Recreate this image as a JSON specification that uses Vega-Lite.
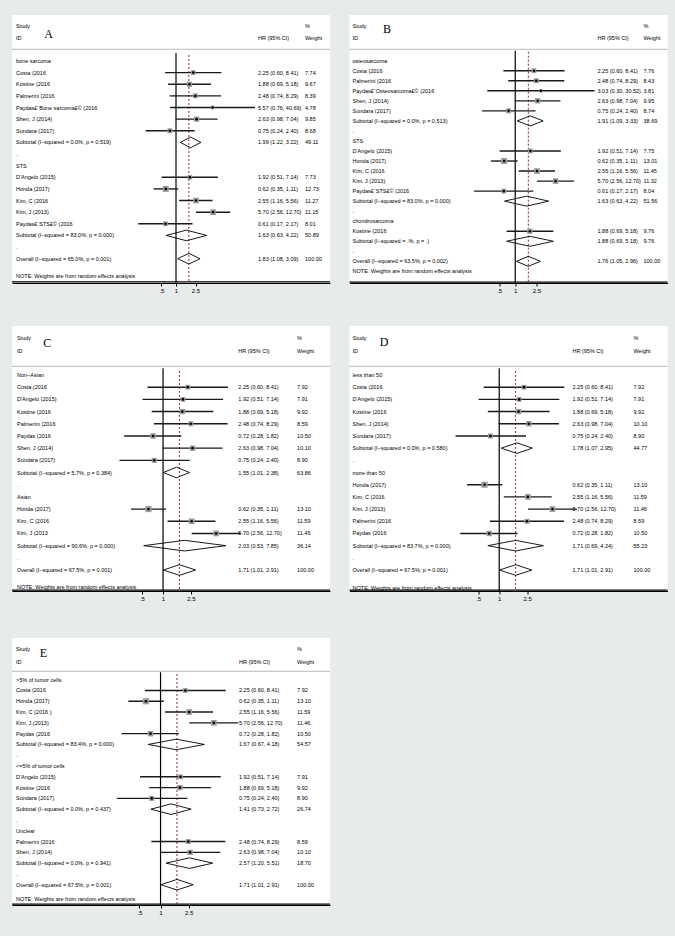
{
"$schema": "https://vega.github.io/schema/vega-lite/v6.json",
"background": "#e7ebe9",
"padding": {"left": 11, "top": 15, "right": 0, "bottom": 0},
"datasets": {
"A": [
{"row":-3.035,"label":"Study","wt":"%"},
{"row":-1.98,"label":"ID","hr":"HR (95% CI)","wt":"Weight"},
{"row":0,"label":"bone sarcoma"},
{"row":1,"label":"Costa (2016","type":"s","est":2.25,"lo":0.60,"hi":8.41,"w":7.74,"hr":"2.25 (0.60, 8.41)","wt":"7.74"},
{"row":2,"label":"Kostine (2016","type":"s","est":1.88,"lo":0.69,"hi":5.18,"w":9.67,"hr":"1.88 (0.69, 5.18)","wt":"9.67"},
{"row":3,"label":"Palmerini (2016","type":"s","est":2.48,"lo":0.74,"hi":8.29,"w":8.39,"hr":"2.48 (0.74, 8.29)","wt":"8.39"},
{"row":4,"label":"Paydas£¨Bone sarcoma£© (2016","type":"s","est":5.57,"lo":0.76,"hi":40.69,"w":4.78,"hr":"5.57 (0.76, 40.69)","wt":"4.78"},
{"row":5,"label":"Shen, J (2014)","type":"s","est":2.63,"lo":0.98,"hi":7.04,"w":9.85,"hr":"2.63 (0.98, 7.04)","wt":"9.85"},
{"row":6,"label":"Sundara (2017)","type":"s","est":0.75,"lo":0.24,"hi":2.40,"w":8.68,"hr":"0.75 (0.24, 2.40)","wt":"8.68"},
{"row":7,"label":"Subtotal  (I−squared = 0.0%, p = 0.519)","type":"d","est":1.99,"lo":1.22,"hi":3.22,"hr":"1.99 (1.22, 3.22)","wt":"49.11"},
{"row":8,"label":"."},
{"row":9,"label":"STS"},
{"row":10,"label":"D'Angelo (2015)","type":"s","est":1.92,"lo":0.51,"hi":7.14,"w":7.73,"hr":"1.92 (0.51, 7.14)","wt":"7.73"},
{"row":11,"label":"Honda (2017)","type":"s","est":0.62,"lo":0.35,"hi":1.11,"w":12.73,"hr":"0.62 (0.35, 1.11)","wt":"12.73"},
{"row":12,"label":"Kim, C (2016","type":"s","est":2.55,"lo":1.16,"hi":5.56,"w":11.27,"hr":"2.55 (1.16, 5.56)","wt":"11.27"},
{"row":13,"label":"Kim, J (2013)","type":"s","est":5.70,"lo":2.56,"hi":12.70,"w":11.15,"hr":"5.70 (2.56, 12.70)","wt":"11.15"},
{"row":14,"label":"Paydas£¨STS£© (2016","type":"s","est":0.61,"lo":0.17,"hi":2.17,"w":8.01,"hr":"0.61 (0.17, 2.17)","wt":"8.01"},
{"row":15,"label":"Subtotal  (I−squared = 83.0%, p = 0.000)","type":"d","est":1.63,"lo":0.63,"hi":4.22,"hr":"1.63 (0.63, 4.22)","wt":"50.89"},
{"row":16,"label":"."},
{"row":17,"label":"Overall  (I−squared = 65.0%, p = 0.001)","type":"d","est":1.83,"lo":1.08,"hi":3.09,"hr":"1.83 (1.08, 3.09)","wt":"100.00"},
{"row":18.51,"label":"NOTE: Weights are from random effects analysis"}
],
"B": [
{"row":-3.49,"label":"Study","wt":"%"},
{"row":-2.23,"label":"ID","hr":"HR (95% CI)","wt":"Weight"},
{"row":0,"label":"osteosarcoma"},
{"row":1,"label":"Costa (2016","type":"s","est":2.25,"lo":0.60,"hi":8.41,"w":7.76,"hr":"2.25 (0.60, 8.41)","wt":"7.76"},
{"row":2,"label":"Palmerini (2016","type":"s","est":2.48,"lo":0.74,"hi":8.29,"w":8.43,"hr":"2.48 (0.74, 8.29)","wt":"8.43"},
{"row":3,"label":"Paydas£¨Osteosarcoma£© (2016","type":"s","est":3.03,"lo":0.30,"hi":30.52,"w":3.81,"hr":"3.03 (0.30, 30.52)","wt":"3.81"},
{"row":4,"label":"Shen, J (2014)","type":"s","est":2.63,"lo":0.98,"hi":7.04,"w":9.95,"hr":"2.63 (0.98, 7.04)","wt":"9.95"},
{"row":5,"label":"Sundara (2017)","type":"s","est":0.75,"lo":0.24,"hi":2.40,"w":8.74,"hr":"0.75 (0.24, 2.40)","wt":"8.74"},
{"row":6,"label":"Subtotal  (I−squared = 0.0%, p = 0.513)","type":"d","est":1.91,"lo":1.09,"hi":3.33,"hr":"1.91 (1.09, 3.33)","wt":"38.69"},
{"row":7,"label":"."},
{"row":8,"label":"STS"},
{"row":9,"label":"D'Angelo (2015)","type":"s","est":1.92,"lo":0.51,"hi":7.14,"w":7.75,"hr":"1.92 (0.51, 7.14)","wt":"7.75"},
{"row":10,"label":"Honda (2017)","type":"s","est":0.62,"lo":0.35,"hi":1.11,"w":13.01,"hr":"0.62 (0.35, 1.11)","wt":"13.01"},
{"row":11,"label":"Kim, C (2016","type":"s","est":2.55,"lo":1.16,"hi":5.56,"w":11.45,"hr":"2.55 (1.16, 5.56)","wt":"11.45"},
{"row":12,"label":"Kim, J (2013)","type":"s","est":5.70,"lo":2.56,"hi":12.70,"w":11.32,"hr":"5.70 (2.56, 12.70)","wt":"11.32"},
{"row":13,"label":"Paydas£¨STS£© (2016","type":"s","est":0.61,"lo":0.17,"hi":2.17,"w":8.04,"hr":"0.61 (0.17, 2.17)","wt":"8.04"},
{"row":14,"label":"Subtotal  (I−squared = 83.0%, p = 0.000)","type":"d","est":1.63,"lo":0.63,"hi":4.22,"hr":"1.63 (0.63, 4.22)","wt":"51.56"},
{"row":15,"label":"."},
{"row":16,"label":"chondrosarcoma"},
{"row":17,"label":"Kostine (2016","type":"s","est":1.88,"lo":0.69,"hi":5.18,"w":9.76,"hr":"1.88 (0.69, 5.18)","wt":"9.76"},
{"row":18,"label":"Subtotal  (I−squared = .%, p = .)","type":"d","est":1.88,"lo":0.69,"hi":5.18,"hr":"1.88 (0.69, 5.18)","wt":"9.76"},
{"row":19,"label":"."},
{"row":20,"label":"Overall  (I−squared = 63.5%, p = 0.002)","type":"d","est":1.76,"lo":1.05,"hi":2.96,"hr":"1.76 (1.05, 2.96)","wt":"100.00"},
{"row":20.97,"label":"NOTE: Weights are from random effects analysis"}
],
"C": [
{"row":-3.01,"label":"Study","wt":"%"},
{"row":-1.94,"label":"ID","hr":"HR (95% CI)","wt":"Weight"},
{"row":0,"label":"Non−Asian"},
{"row":1,"label":"Costa (2016","type":"s","est":2.25,"lo":0.60,"hi":8.41,"w":7.92,"hr":"2.25 (0.60, 8.41)","wt":"7.92"},
{"row":2,"label":"D'Angelo (2015)","type":"s","est":1.92,"lo":0.51,"hi":7.14,"w":7.91,"hr":"1.92 (0.51, 7.14)","wt":"7.91"},
{"row":3,"label":"Kostine (2016","type":"s","est":1.88,"lo":0.69,"hi":5.18,"w":9.92,"hr":"1.88 (0.69, 5.18)","wt":"9.92"},
{"row":4,"label":"Palmerini (2016","type":"s","est":2.48,"lo":0.74,"hi":8.29,"w":8.59,"hr":"2.48 (0.74, 8.29)","wt":"8.59"},
{"row":5,"label":"Paydas (2016","type":"s","est":0.72,"lo":0.28,"hi":1.82,"w":10.50,"hr":"0.72 (0.28, 1.82)","wt":"10.50"},
{"row":6,"label":"Shen, J (2014)","type":"s","est":2.63,"lo":0.98,"hi":7.04,"w":10.10,"hr":"2.63 (0.98, 7.04)","wt":"10.10"},
{"row":7,"label":"Sundara (2017)","type":"s","est":0.75,"lo":0.24,"hi":2.40,"w":8.90,"hr":"0.75 (0.24, 2.40)","wt":"8.90"},
{"row":8,"label":"Subtotal  (I−squared = 5.7%, p = 0.384)","type":"d","est":1.55,"lo":1.01,"hi":2.38,"hr":"1.55 (1.01, 2.38)","wt":"63.86"},
{"row":9,"label":"."},
{"row":10,"label":"Asian"},
{"row":11,"label":"Honda (2017)","type":"s","est":0.62,"lo":0.35,"hi":1.11,"w":13.10,"hr":"0.62 (0.35, 1.11)","wt":"13.10"},
{"row":12,"label":"Kim, C (2016","type":"s","est":2.55,"lo":1.16,"hi":5.56,"w":11.59,"hr":"2.55 (1.16, 5.56)","wt":"11.59"},
{"row":13,"label":"Kim, J (2013","type":"s","est":5.70,"lo":2.56,"hi":12.70,"w":11.46,"hr":"5.70 (2.56, 12.70)","wt":"11.46"},
{"row":14,"label":"Subtotal  (I−squared = 90.6%, p = 0.000)","type":"d","est":2.03,"lo":0.53,"hi":7.85,"hr":"2.03 (0.53, 7.85)","wt":"36.14"},
{"row":15,"label":"."},
{"row":16,"label":"Overall  (I−squared = 67.5%, p = 0.001)","type":"d","est":1.71,"lo":1.01,"hi":2.91,"hr":"1.71 (1.01, 2.91)","wt":"100.00"},
{"row":17.4,"label":"NOTE: Weights are from random effects analysis"}
],
"D": [
{"row":-3.01,"label":"Study","wt":"%"},
{"row":-1.94,"label":"ID","hr":"HR (95% CI)","wt":"Weight"},
{"row":0,"label":"less than 50"},
{"row":1,"label":"Costa (2016","type":"s","est":2.25,"lo":0.60,"hi":8.41,"w":7.92,"hr":"2.25 (0.60, 8.41)","wt":"7.92"},
{"row":2,"label":"D'Angelo (2015)","type":"s","est":1.92,"lo":0.51,"hi":7.14,"w":7.91,"hr":"1.92 (0.51, 7.14)","wt":"7.91"},
{"row":3,"label":"Kostine (2016","type":"s","est":1.88,"lo":0.69,"hi":5.18,"w":9.92,"hr":"1.88 (0.69, 5.18)","wt":"9.92"},
{"row":4,"label":"Shen, J (2014)","type":"s","est":2.63,"lo":0.98,"hi":7.04,"w":10.10,"hr":"2.63 (0.98, 7.04)","wt":"10.10"},
{"row":5,"label":"Sundara (2017)","type":"s","est":0.75,"lo":0.24,"hi":2.40,"w":8.90,"hr":"0.75 (0.24, 2.40)","wt":"8.90"},
{"row":6,"label":"Subtotal  (I−squared = 0.0%, p = 0.580)","type":"d","est":1.78,"lo":1.07,"hi":2.95,"hr":"1.78 (1.07, 2.95)","wt":"44.77"},
{"row":7,"label":"."},
{"row":8,"label":"more than 50"},
{"row":9,"label":"Honda (2017)","type":"s","est":0.62,"lo":0.35,"hi":1.11,"w":13.10,"hr":"0.62 (0.35, 1.11)","wt":"13.10"},
{"row":10,"label":"Kim, C (2016","type":"s","est":2.55,"lo":1.16,"hi":5.56,"w":11.59,"hr":"2.55 (1.16, 5.56)","wt":"11.59"},
{"row":11,"label":"Kim, J (2013)","type":"s","est":5.70,"lo":2.56,"hi":12.70,"w":11.46,"hr":"5.70 (2.56, 12.70)","wt":"11.46"},
{"row":12,"label":"Palmerini (2016","type":"s","est":2.48,"lo":0.74,"hi":8.29,"w":8.59,"hr":"2.48 (0.74, 8.29)","wt":"8.59"},
{"row":13,"label":"Paydas (2016","type":"s","est":0.72,"lo":0.28,"hi":1.82,"w":10.50,"hr":"0.72 (0.28, 1.82)","wt":"10.50"},
{"row":14,"label":"Subtotal  (I−squared = 83.7%, p = 0.000)","type":"d","est":1.71,"lo":0.69,"hi":4.24,"hr":"1.71 (0.69, 4.24)","wt":"55.23"},
{"row":15,"label":"."},
{"row":16,"label":"Overall  (I−squared = 67.5%, p = 0.001)","type":"d","est":1.71,"lo":1.01,"hi":2.91,"hr":"1.71 (1.01, 2.91)","wt":"100.00"},
{"row":17.45,"label":"NOTE: Weights are from random effects analysis"}
],
"E": [
{"row":-2.845,"label":"Study","wt":"%"},
{"row":-1.61,"label":"ID","hr":"HR (95% CI)","wt":"Weight"},
{"row":0,"label":">5% of tumor cells"},
{"row":1,"label":"Costa (2016","type":"s","est":2.25,"lo":0.60,"hi":8.41,"w":7.92,"hr":"2.25 (0.60, 8.41)","wt":"7.92"},
{"row":2,"label":"Honda (2017)","type":"s","est":0.62,"lo":0.35,"hi":1.11,"w":13.10,"hr":"0.62 (0.35, 1.11)","wt":"13.10"},
{"row":3,"label":"Kim, C (2016 )","type":"s","est":2.55,"lo":1.16,"hi":5.56,"w":11.59,"hr":"2.55 (1.16, 5.56)","wt":"11.59"},
{"row":4,"label":"Kim, J (2013)","type":"s","est":5.70,"lo":2.56,"hi":12.70,"w":11.46,"hr":"5.70 (2.56, 12.70)","wt":"11.46"},
{"row":5,"label":"Paydas (2016","type":"s","est":0.72,"lo":0.28,"hi":1.82,"w":10.50,"hr":"0.72 (0.28, 1.82)","wt":"10.50"},
{"row":6,"label":"Subtotal  (I−squared = 83.4%, p = 0.000)","type":"d","est":1.67,"lo":0.67,"hi":4.18,"hr":"1.67 (0.67, 4.18)","wt":"54.57"},
{"row":7,"label":"."},
{"row":8,"label":"<=5% of tumor cells"},
{"row":9,"label":"D'Angelo (2015)","type":"s","est":1.92,"lo":0.51,"hi":7.14,"w":7.91,"hr":"1.92 (0.51, 7.14)","wt":"7.91"},
{"row":10,"label":"Kostine (2016","type":"s","est":1.88,"lo":0.69,"hi":5.18,"w":9.92,"hr":"1.88 (0.69, 5.18)","wt":"9.92"},
{"row":11,"label":"Sundara (2017)","type":"s","est":0.75,"lo":0.24,"hi":2.40,"w":8.90,"hr":"0.75 (0.24, 2.40)","wt":"8.90"},
{"row":12,"label":"Subtotal  (I−squared = 0.0%, p = 0.437)","type":"d","est":1.41,"lo":0.73,"hi":2.72,"hr":"1.41 (0.73, 2.72)","wt":"26.74"},
{"row":13,"label":"."},
{"row":14,"label":"Unclear"},
{"row":15,"label":"Palmerini (2016","type":"s","est":2.48,"lo":0.74,"hi":8.29,"w":8.59,"hr":"2.48 (0.74, 8.29)","wt":"8.59"},
{"row":16,"label":"Shen, J (2014)","type":"s","est":2.63,"lo":0.98,"hi":7.04,"w":10.10,"hr":"2.63 (0.98, 7.04)","wt":"10.10"},
{"row":17,"label":"Subtotal  (I−squared = 0.0%, p = 0.941)","type":"d","est":2.57,"lo":1.20,"hi":5.51,"hr":"2.57 (1.20, 5.51)","wt":"18.70"},
{"row":18,"label":"."},
{"row":19,"label":"Overall  (I−squared = 67.5%, p = 0.001)","type":"d","est":1.71,"lo":1.01,"hi":2.91,"hr":"1.71 (1.01, 2.91)","wt":"100.00"},
{"row":20.32,"label":"NOTE: Weights are from random effects analysis"}
]
},
"spacing": 8.5,
"hconcat": [
{"spacing": 33, "vconcat": [
{"width": 318, "height": 268, "data": {"name": "A"}, "layer": [
{"data": {"values": [{}]}, "mark": {"type": "rule", "color": "#a9a9a9", "strokeWidth": 0.8}, "encoding": {"x": {"datum": 0.000453, "type": "quantitative", "title": null, "scale": {"type": "log", "domain": [0.000453, 1380], "nice": false}, "axis": {"values": [0.5, 1, 2.5], "title": null, "labelExpr": "datum.value == 0.5 ? '.5' : datum.value == 1 ? '1' : '2.5'"}}, "x2": {"datum": 1380}, "y": {"datum": -1.006, "type": "quantitative", "scale": {"domain": [-3.955, 19.09], "reverse": true, "nice": false, "zero": false}}}},
{"data": {"values": [{}]}, "mark": {"type": "rule", "color": "#000", "strokeWidth": 1.3}, "encoding": {"x": {"datum": 0.000453, "type": "quantitative", "title": null}, "x2": {"datum": 1380}, "y": {"datum": 19.0, "type": "quantitative"}}},
{"data": {"values": [{}]}, "mark": {"type": "rule", "color": "#000", "strokeWidth": 1.2}, "encoding": {"x": {"datum": 1, "type": "quantitative", "title": null}, "y": {"datum": -0.69, "type": "quantitative"}, "y2": {"datum": 19.09}}},
{"data": {"values": [{}]}, "mark": {"type": "rule", "color": "#8c2a3a", "strokeWidth": 1, "strokeDash": [2, 2]}, "encoding": {"x": {"datum": 1.83, "type": "quantitative", "title": null}, "y": {"datum": -0.52, "type": "quantitative"}, "y2": {"datum": 19.09}}},
{"transform": [{"filter": "datum.type == 's'"}], "mark": {"type": "rule", "color": "#1a1a1a", "strokeWidth": 1.4}, "encoding": {"x": {"field": "lo", "type": "quantitative", "title": null}, "x2": {"field": "hi"}, "y": {"field": "row", "type": "quantitative"}}},
{"transform": [{"filter": "datum.type == 's'"}], "mark": {"type": "point", "shape": "square", "filled": true, "color": "#9c9c9c", "opacity": 1}, "encoding": {"x": {"field": "est", "type": "quantitative", "title": null}, "y": {"field": "row", "type": "quantitative"}, "size": {"field": "w", "type": "quantitative", "scale": {"domain": [0, 14], "range": [0, 40]}, "legend": null}}},
{"transform": [{"filter": "datum.type == 's'"}], "mark": {"type": "point", "shape": "circle", "filled": true, "color": "#000", "size": 7, "opacity": 1}, "encoding": {"x": {"field": "est", "type": "quantitative", "title": null}, "y": {"field": "row", "type": "quantitative"}}},
{"transform": [{"filter": "datum.type == 'd'"}], "mark": {"type": "rule", "color": "#000", "strokeWidth": 0.9, "y2Offset": -5.3}, "encoding": {"x": {"field": "lo", "type": "quantitative", "title": null}, "x2": {"field": "est"}, "y": {"field": "row", "type": "quantitative"}, "y2": {"field": "row"}}},
{"transform": [{"filter": "datum.type == 'd'"}], "mark": {"type": "rule", "color": "#000", "strokeWidth": 0.9, "yOffset": -5.3}, "encoding": {"x": {"field": "est", "type": "quantitative", "title": null}, "x2": {"field": "hi"}, "y": {"field": "row", "type": "quantitative"}, "y2": {"field": "row"}}},
{"transform": [{"filter": "datum.type == 'd'"}], "mark": {"type": "rule", "color": "#000", "strokeWidth": 0.9, "y2Offset": 5.3}, "encoding": {"x": {"field": "lo", "type": "quantitative", "title": null}, "x2": {"field": "est"}, "y": {"field": "row", "type": "quantitative"}, "y2": {"field": "row"}}},
{"transform": [{"filter": "datum.type == 'd'"}], "mark": {"type": "rule", "color": "#000", "strokeWidth": 0.9, "yOffset": 5.3}, "encoding": {"x": {"field": "est", "type": "quantitative", "title": null}, "x2": {"field": "hi"}, "y": {"field": "row", "type": "quantitative"}, "y2": {"field": "row"}}},
{"mark": {"type": "text"}, "encoding": {"x": {"datum": 0.000547, "type": "quantitative", "title": null}, "y": {"field": "row", "type": "quantitative"}, "text": {"field": "label"}}},
{"transform": [{"filter": "isValid(datum.hr)"}], "mark": {"type": "text"}, "encoding": {"x": {"datum": 47.0, "type": "quantitative", "title": null}, "y": {"field": "row", "type": "quantitative"}, "text": {"field": "hr"}}},
{"transform": [{"filter": "isValid(datum.wt)"}], "mark": {"type": "text"}, "encoding": {"x": {"datum": 427, "type": "quantitative", "title": null}, "y": {"field": "row", "type": "quantitative"}, "text": {"field": "wt"}}},
{"data": {"values": [{}]}, "mark": {"type": "text", "text": "A", "font": "Liberation Serif", "fontSize": 12, "align": "center", "color": "#000"}, "encoding": {"x": {"datum": 0.00251, "type": "quantitative", "title": null}, "y": {"datum": -2.36, "type": "quantitative"}}}
]},
{"spacing": 37, "vconcat": [
{"width": 318, "height": 265, "data": {"name": "C"}, "layer": [
{"data": {"values": [{}]}, "mark": {"type": "rule", "color": "#a9a9a9", "strokeWidth": 0.8}, "encoding": {"x": {"datum": 0.00708, "type": "quantitative", "title": null, "scale": {"type": "log", "domain": [0.00708, 238], "nice": false}, "axis": {"values": [0.5, 1, 2.5], "title": null, "labelExpr": "datum.value == 0.5 ? '.5' : datum.value == 1 ? '1' : '2.5'"}}, "x2": {"datum": 238}, "y": {"datum": -0.71, "type": "quantitative", "scale": {"domain": [-4.02, 17.72], "reverse": true, "nice": false, "zero": false}}}},
{"data": {"values": [{}]}, "mark": {"type": "rule", "color": "#000", "strokeWidth": 1.3}, "encoding": {"x": {"datum": 0.00708, "type": "quantitative", "title": null}, "x2": {"datum": 238}, "y": {"datum": 17.65, "type": "quantitative"}}},
{"data": {"values": [{}]}, "mark": {"type": "rule", "color": "#000", "strokeWidth": 1.2}, "encoding": {"x": {"datum": 1, "type": "quantitative", "title": null}, "y": {"datum": -0.55, "type": "quantitative"}, "y2": {"datum": 17.72}}},
{"data": {"values": [{}]}, "mark": {"type": "rule", "color": "#8c2a3a", "strokeWidth": 1, "strokeDash": [2, 2]}, "encoding": {"x": {"datum": 1.71, "type": "quantitative", "title": null}, "y": {"datum": -0.33, "type": "quantitative"}, "y2": {"datum": 17.72}}},
{"transform": [{"filter": "datum.type == 's'"}], "mark": {"type": "rule", "color": "#1a1a1a", "strokeWidth": 1.4}, "encoding": {"x": {"field": "lo", "type": "quantitative", "title": null}, "x2": {"field": "hi"}, "y": {"field": "row", "type": "quantitative"}}},
{"transform": [{"filter": "datum.type == 's'"}], "mark": {"type": "point", "shape": "square", "filled": true, "color": "#9c9c9c", "opacity": 1}, "encoding": {"x": {"field": "est", "type": "quantitative", "title": null}, "y": {"field": "row", "type": "quantitative"}, "size": {"field": "w", "type": "quantitative", "scale": {"domain": [0, 14], "range": [0, 40]}, "legend": null}}},
{"transform": [{"filter": "datum.type == 's'"}], "mark": {"type": "point", "shape": "circle", "filled": true, "color": "#000", "size": 7, "opacity": 1}, "encoding": {"x": {"field": "est", "type": "quantitative", "title": null}, "y": {"field": "row", "type": "quantitative"}}},
{"transform": [{"filter": "datum.type == 'd'"}], "mark": {"type": "rule", "color": "#000", "strokeWidth": 0.9, "y2Offset": -5.3}, "encoding": {"x": {"field": "lo", "type": "quantitative", "title": null}, "x2": {"field": "est"}, "y": {"field": "row", "type": "quantitative"}, "y2": {"field": "row"}}},
{"transform": [{"filter": "datum.type == 'd'"}], "mark": {"type": "rule", "color": "#000", "strokeWidth": 0.9, "yOffset": -5.3}, "encoding": {"x": {"field": "est", "type": "quantitative", "title": null}, "x2": {"field": "hi"}, "y": {"field": "row", "type": "quantitative"}, "y2": {"field": "row"}}},
{"transform": [{"filter": "datum.type == 'd'"}], "mark": {"type": "rule", "color": "#000", "strokeWidth": 0.9, "y2Offset": 5.3}, "encoding": {"x": {"field": "lo", "type": "quantitative", "title": null}, "x2": {"field": "est"}, "y": {"field": "row", "type": "quantitative"}, "y2": {"field": "row"}}},
{"transform": [{"filter": "datum.type == 'd'"}], "mark": {"type": "rule", "color": "#000", "strokeWidth": 0.9, "yOffset": 5.3}, "encoding": {"x": {"field": "est", "type": "quantitative", "title": null}, "x2": {"field": "hi"}, "y": {"field": "row", "type": "quantitative"}, "y2": {"field": "row"}}},
{"mark": {"type": "text"}, "encoding": {"x": {"datum": 0.00833, "type": "quantitative", "title": null}, "y": {"field": "row", "type": "quantitative"}, "text": {"field": "label"}}},
{"transform": [{"filter": "isValid(datum.hr)"}], "mark": {"type": "text"}, "encoding": {"x": {"datum": 11.79, "type": "quantitative", "title": null}, "y": {"field": "row", "type": "quantitative"}, "text": {"field": "hr"}}},
{"transform": [{"filter": "isValid(datum.wt)"}], "mark": {"type": "text"}, "encoding": {"x": {"datum": 81.0, "type": "quantitative", "title": null}, "y": {"field": "row", "type": "quantitative"}, "text": {"field": "wt"}}},
{"data": {"values": [{}]}, "mark": {"type": "text", "text": "C", "font": "Liberation Serif", "fontSize": 12, "align": "center", "color": "#000"}, "encoding": {"x": {"datum": 0.0224, "type": "quantitative", "title": null}, "y": {"datum": -2.63, "type": "quantitative"}}}
]},
{"width": 318, "height": 267, "data": {"name": "E"}, "layer": [
{"data": {"values": [{}]}, "mark": {"type": "rule", "color": "#a9a9a9", "strokeWidth": 0.8}, "encoding": {"x": {"datum": 0.0078, "type": "quantitative", "title": null, "scale": {"type": "log", "domain": [0.0078, 254], "nice": false}, "axis": {"values": [0.5, 1, 2.5], "title": null, "labelExpr": "datum.value == 0.5 ? '.5' : datum.value == 1 ? '1' : '2.5'"}}, "x2": {"datum": 254}, "y": {"datum": -0.78, "type": "quantitative", "scale": {"domain": [-3.865, 20.88], "reverse": true, "nice": false, "zero": false}}}},
{"data": {"values": [{}]}, "mark": {"type": "rule", "color": "#000", "strokeWidth": 1.3}, "encoding": {"x": {"datum": 0.0078, "type": "quantitative", "title": null}, "x2": {"datum": 254}, "y": {"datum": 20.8, "type": "quantitative"}}},
{"data": {"values": [{}]}, "mark": {"type": "rule", "color": "#000", "strokeWidth": 1.2}, "encoding": {"x": {"datum": 1, "type": "quantitative", "title": null}, "y": {"datum": -0.69, "type": "quantitative"}, "y2": {"datum": 20.88}}},
{"data": {"values": [{}]}, "mark": {"type": "rule", "color": "#8c2a3a", "strokeWidth": 1, "strokeDash": [2, 2]}, "encoding": {"x": {"datum": 1.71, "type": "quantitative", "title": null}, "y": {"datum": -0.53, "type": "quantitative"}, "y2": {"datum": 20.88}}},
{"transform": [{"filter": "datum.type == 's'"}], "mark": {"type": "rule", "color": "#1a1a1a", "strokeWidth": 1.4}, "encoding": {"x": {"field": "lo", "type": "quantitative", "title": null}, "x2": {"field": "hi"}, "y": {"field": "row", "type": "quantitative"}}},
{"transform": [{"filter": "datum.type == 's'"}], "mark": {"type": "point", "shape": "square", "filled": true, "color": "#9c9c9c", "opacity": 1}, "encoding": {"x": {"field": "est", "type": "quantitative", "title": null}, "y": {"field": "row", "type": "quantitative"}, "size": {"field": "w", "type": "quantitative", "scale": {"domain": [0, 14], "range": [0, 40]}, "legend": null}}},
{"transform": [{"filter": "datum.type == 's'"}], "mark": {"type": "point", "shape": "circle", "filled": true, "color": "#000", "size": 7, "opacity": 1}, "encoding": {"x": {"field": "est", "type": "quantitative", "title": null}, "y": {"field": "row", "type": "quantitative"}}},
{"transform": [{"filter": "datum.type == 'd'"}], "mark": {"type": "rule", "color": "#000", "strokeWidth": 0.9, "y2Offset": -5.3}, "encoding": {"x": {"field": "lo", "type": "quantitative", "title": null}, "x2": {"field": "est"}, "y": {"field": "row", "type": "quantitative"}, "y2": {"field": "row"}}},
{"transform": [{"filter": "datum.type == 'd'"}], "mark": {"type": "rule", "color": "#000", "strokeWidth": 0.9, "yOffset": -5.3}, "encoding": {"x": {"field": "est", "type": "quantitative", "title": null}, "x2": {"field": "hi"}, "y": {"field": "row", "type": "quantitative"}, "y2": {"field": "row"}}},
{"transform": [{"filter": "datum.type == 'd'"}], "mark": {"type": "rule", "color": "#000", "strokeWidth": 0.9, "y2Offset": 5.3}, "encoding": {"x": {"field": "lo", "type": "quantitative", "title": null}, "x2": {"field": "est"}, "y": {"field": "row", "type": "quantitative"}, "y2": {"field": "row"}}},
{"transform": [{"filter": "datum.type == 'd'"}], "mark": {"type": "rule", "color": "#000", "strokeWidth": 0.9, "yOffset": 5.3}, "encoding": {"x": {"field": "est", "type": "quantitative", "title": null}, "x2": {"field": "hi"}, "y": {"field": "row", "type": "quantitative"}, "y2": {"field": "row"}}},
{"mark": {"type": "text"}, "encoding": {"x": {"datum": 0.00889, "type": "quantitative", "title": null}, "y": {"field": "row", "type": "quantitative"}, "text": {"field": "label"}}},
{"transform": [{"filter": "isValid(datum.hr)"}], "mark": {"type": "text"}, "encoding": {"x": {"datum": 13.0, "type": "quantitative", "title": null}, "y": {"field": "row", "type": "quantitative"}, "text": {"field": "hr"}}},
{"transform": [{"filter": "isValid(datum.wt)"}], "mark": {"type": "text"}, "encoding": {"x": {"datum": 86.6, "type": "quantitative", "title": null}, "y": {"field": "row", "type": "quantitative"}, "text": {"field": "wt"}}},
{"data": {"values": [{}]}, "mark": {"type": "text", "text": "E", "font": "Liberation Serif", "fontSize": 12, "align": "center", "color": "#000"}, "encoding": {"x": {"datum": 0.0218, "type": "quantitative", "title": null}, "y": {"datum": -2.47, "type": "quantitative"}}}
]}
]}
]},
{"spacing": 23, "vconcat": [
{"spacing": 33, "vconcat": [
{"width": 318, "height": 268, "data": {"name": "B"}, "layer": [
{"data": {"values": [{}]}, "mark": {"type": "rule", "color": "#a9a9a9", "strokeWidth": 0.8}, "encoding": {"x": {"datum": 0.00079, "type": "quantitative", "title": null, "scale": {"type": "log", "domain": [0.00079, 709], "nice": false}, "axis": {"values": [0.5, 1, 2.5], "title": null, "labelExpr": "datum.value == 0.5 ? '.5' : datum.value == 1 ? '1' : '2.5'"}}, "x2": {"datum": 709}, "y": {"datum": -1.137, "type": "quantitative", "scale": {"domain": [-4.556, 22.16], "reverse": true, "nice": false, "zero": false}}}},
{"data": {"values": [{}]}, "mark": {"type": "text", "text": ".", "opacity": 0}, "encoding": {"x": {"datum": 0.000525, "type": "quantitative", "title": null}, "y": {"datum": 0, "type": "quantitative"}}},
{"data": {"values": [{}]}, "mark": {"type": "rule", "color": "#000", "strokeWidth": 1.3}, "encoding": {"x": {"datum": 0.00079, "type": "quantitative", "title": null}, "x2": {"datum": 709}, "y": {"datum": 22.08, "type": "quantitative"}}},
{"data": {"values": [{}]}, "mark": {"type": "rule", "color": "#000", "strokeWidth": 1.2}, "encoding": {"x": {"datum": 1, "type": "quantitative", "title": null}, "y": {"datum": -1.0, "type": "quantitative"}, "y2": {"datum": 22.16}}},
{"data": {"values": [{}]}, "mark": {"type": "rule", "color": "#8c2a3a", "strokeWidth": 1, "strokeDash": [2, 2]}, "encoding": {"x": {"datum": 1.76, "type": "quantitative", "title": null}, "y": {"datum": -0.9, "type": "quantitative"}, "y2": {"datum": 22.16}}},
{"transform": [{"filter": "datum.type == 's'"}], "mark": {"type": "rule", "color": "#1a1a1a", "strokeWidth": 1.4}, "encoding": {"x": {"field": "lo", "type": "quantitative", "title": null}, "x2": {"field": "hi"}, "y": {"field": "row", "type": "quantitative"}}},
{"transform": [{"filter": "datum.type == 's'"}], "mark": {"type": "point", "shape": "square", "filled": true, "color": "#9c9c9c", "opacity": 1}, "encoding": {"x": {"field": "est", "type": "quantitative", "title": null}, "y": {"field": "row", "type": "quantitative"}, "size": {"field": "w", "type": "quantitative", "scale": {"domain": [0, 14], "range": [0, 40]}, "legend": null}}},
{"transform": [{"filter": "datum.type == 's'"}], "mark": {"type": "point", "shape": "circle", "filled": true, "color": "#000", "size": 7, "opacity": 1}, "encoding": {"x": {"field": "est", "type": "quantitative", "title": null}, "y": {"field": "row", "type": "quantitative"}}},
{"transform": [{"filter": "datum.type == 'd'"}], "mark": {"type": "rule", "color": "#000", "strokeWidth": 0.9, "y2Offset": -5}, "encoding": {"x": {"field": "lo", "type": "quantitative", "title": null}, "x2": {"field": "est"}, "y": {"field": "row", "type": "quantitative"}, "y2": {"field": "row"}}},
{"transform": [{"filter": "datum.type == 'd'"}], "mark": {"type": "rule", "color": "#000", "strokeWidth": 0.9, "yOffset": -5}, "encoding": {"x": {"field": "est", "type": "quantitative", "title": null}, "x2": {"field": "hi"}, "y": {"field": "row", "type": "quantitative"}, "y2": {"field": "row"}}},
{"transform": [{"filter": "datum.type == 'd'"}], "mark": {"type": "rule", "color": "#000", "strokeWidth": 0.9, "y2Offset": 5}, "encoding": {"x": {"field": "lo", "type": "quantitative", "title": null}, "x2": {"field": "est"}, "y": {"field": "row", "type": "quantitative"}, "y2": {"field": "row"}}},
{"transform": [{"filter": "datum.type == 'd'"}], "mark": {"type": "rule", "color": "#000", "strokeWidth": 0.9, "yOffset": 5}, "encoding": {"x": {"field": "est", "type": "quantitative", "title": null}, "x2": {"field": "hi"}, "y": {"field": "row", "type": "quantitative"}, "y2": {"field": "row"}}},
{"mark": {"type": "text"}, "encoding": {"x": {"datum": 0.0009, "type": "quantitative", "title": null}, "y": {"field": "row", "type": "quantitative"}, "text": {"field": "label"}}},
{"transform": [{"filter": "isValid(datum.hr)"}], "mark": {"type": "text"}, "encoding": {"x": {"datum": 34.7, "type": "quantitative", "title": null}, "y": {"field": "row", "type": "quantitative"}, "text": {"field": "hr"}}},
{"transform": [{"filter": "isValid(datum.wt)"}], "mark": {"type": "text"}, "encoding": {"x": {"datum": 252, "type": "quantitative", "title": null}, "y": {"field": "row", "type": "quantitative"}, "text": {"field": "wt"}}},
{"data": {"values": [{}]}, "mark": {"type": "text", "text": "B", "font": "Liberation Serif", "fontSize": 12, "align": "center", "color": "#000"}, "encoding": {"x": {"datum": 0.00398, "type": "quantitative", "title": null}, "y": {"datum": -3.19, "type": "quantitative"}}}
]},
{"width": 318, "height": 265, "data": {"name": "D"}, "layer": [
{"data": {"values": [{}]}, "mark": {"type": "rule", "color": "#a9a9a9", "strokeWidth": 0.8}, "encoding": {"x": {"datum": 0.0075, "type": "quantitative", "title": null, "scale": {"type": "log", "domain": [0.0075, 244.7], "nice": false}, "axis": {"values": [0.5, 1, 2.5], "title": null, "labelExpr": "datum.value == 0.5 ? '.5' : datum.value == 1 ? '1' : '2.5'"}}, "x2": {"datum": 244.7}, "y": {"datum": -0.71, "type": "quantitative", "scale": {"domain": [-4.02, 17.72], "reverse": true, "nice": false, "zero": false}}}},
{"data": {"values": [{}]}, "mark": {"type": "text", "text": ".", "opacity": 0}, "encoding": {"x": {"datum": 0.0055, "type": "quantitative", "title": null}, "y": {"datum": 0, "type": "quantitative"}}},
{"data": {"values": [{}]}, "mark": {"type": "rule", "color": "#000", "strokeWidth": 1.3}, "encoding": {"x": {"datum": 0.0075, "type": "quantitative", "title": null}, "x2": {"datum": 244.7}, "y": {"datum": 17.65, "type": "quantitative"}}},
{"data": {"values": [{}]}, "mark": {"type": "rule", "color": "#000", "strokeWidth": 1.2}, "encoding": {"x": {"datum": 1, "type": "quantitative", "title": null}, "y": {"datum": -0.55, "type": "quantitative"}, "y2": {"datum": 17.72}}},
{"data": {"values": [{}]}, "mark": {"type": "rule", "color": "#8c2a3a", "strokeWidth": 1, "strokeDash": [2, 2]}, "encoding": {"x": {"datum": 1.71, "type": "quantitative", "title": null}, "y": {"datum": -0.33, "type": "quantitative"}, "y2": {"datum": 17.72}}},
{"transform": [{"filter": "datum.type == 's'"}], "mark": {"type": "rule", "color": "#1a1a1a", "strokeWidth": 1.4}, "encoding": {"x": {"field": "lo", "type": "quantitative", "title": null}, "x2": {"field": "hi"}, "y": {"field": "row", "type": "quantitative"}}},
{"transform": [{"filter": "datum.type == 's'"}], "mark": {"type": "point", "shape": "square", "filled": true, "color": "#9c9c9c", "opacity": 1}, "encoding": {"x": {"field": "est", "type": "quantitative", "title": null}, "y": {"field": "row", "type": "quantitative"}, "size": {"field": "w", "type": "quantitative", "scale": {"domain": [0, 14], "range": [0, 40]}, "legend": null}}},
{"transform": [{"filter": "datum.type == 's'"}], "mark": {"type": "point", "shape": "circle", "filled": true, "color": "#000", "size": 7, "opacity": 1}, "encoding": {"x": {"field": "est", "type": "quantitative", "title": null}, "y": {"field": "row", "type": "quantitative"}}},
{"transform": [{"filter": "datum.type == 'd'"}], "mark": {"type": "rule", "color": "#000", "strokeWidth": 0.9, "y2Offset": -5.3}, "encoding": {"x": {"field": "lo", "type": "quantitative", "title": null}, "x2": {"field": "est"}, "y": {"field": "row", "type": "quantitative"}, "y2": {"field": "row"}}},
{"transform": [{"filter": "datum.type == 'd'"}], "mark": {"type": "rule", "color": "#000", "strokeWidth": 0.9, "yOffset": -5.3}, "encoding": {"x": {"field": "est", "type": "quantitative", "title": null}, "x2": {"field": "hi"}, "y": {"field": "row", "type": "quantitative"}, "y2": {"field": "row"}}},
{"transform": [{"filter": "datum.type == 'd'"}], "mark": {"type": "rule", "color": "#000", "strokeWidth": 0.9, "y2Offset": 5.3}, "encoding": {"x": {"field": "lo", "type": "quantitative", "title": null}, "x2": {"field": "est"}, "y": {"field": "row", "type": "quantitative"}, "y2": {"field": "row"}}},
{"transform": [{"filter": "datum.type == 'd'"}], "mark": {"type": "rule", "color": "#000", "strokeWidth": 0.9, "yOffset": 5.3}, "encoding": {"x": {"field": "est", "type": "quantitative", "title": null}, "x2": {"field": "hi"}, "y": {"field": "row", "type": "quantitative"}, "y2": {"field": "row"}}},
{"mark": {"type": "text"}, "encoding": {"x": {"datum": 0.00828, "type": "quantitative", "title": null}, "y": {"field": "row", "type": "quantitative"}, "text": {"field": "label"}}},
{"transform": [{"filter": "isValid(datum.hr)"}], "mark": {"type": "text"}, "encoding": {"x": {"datum": 10.97, "type": "quantitative", "title": null}, "y": {"field": "row", "type": "quantitative"}, "text": {"field": "hr"}}},
{"transform": [{"filter": "isValid(datum.wt)"}], "mark": {"type": "text"}, "encoding": {"x": {"datum": 80.6, "type": "quantitative", "title": null}, "y": {"field": "row", "type": "quantitative"}, "text": {"field": "wt"}}},
{"data": {"values": [{}]}, "mark": {"type": "text", "text": "D", "font": "Liberation Serif", "fontSize": 12, "align": "center", "color": "#000"}, "encoding": {"x": {"datum": 0.0232, "type": "quantitative", "title": null}, "y": {"datum": -2.71, "type": "quantitative"}}}
]}
]},
{"width": 337.5, "height": 312, "data": {"values": [{}]}, "mark": {"type": "text", "text": ""}, "encoding": {}}
]}
],
"config": {
"view": {"fill": "white", "stroke": null},
"axisY": {"disable": true},
"axisX": {"domainColor": "#000", "domainWidth": 1, "tickColor": "#000", "tickSize": 3, "tickWidth": 1, "labelFontSize": 6, "labelPadding": 1, "labelColor": "#000", "labelFont": "Liberation Sans", "grid": false, "labelFlush": false, "labelOverlap": false},
"text": {"font": "Liberation Sans", "fontSize": 5.5, "baseline": "middle", "align": "left", "color": "#000"}
}
}
